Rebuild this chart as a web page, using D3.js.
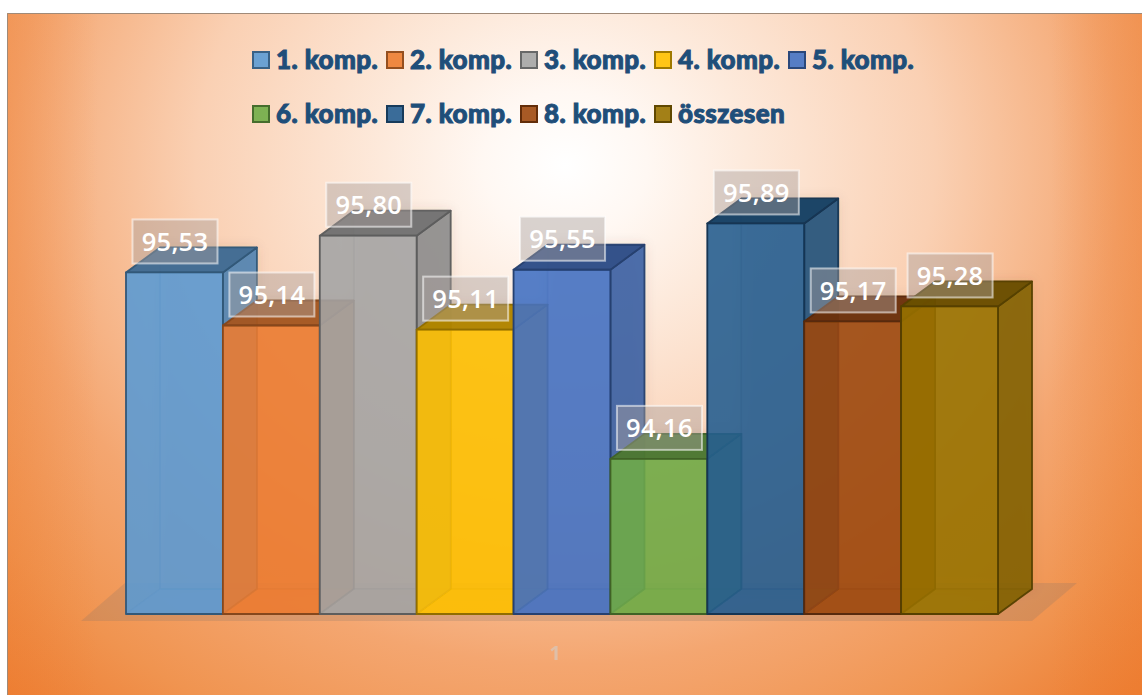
<!DOCTYPE html>
<html><head><meta charset="utf-8">
<script src="https://cdn.jsdelivr.net/npm/d3@7/dist/d3.min.js"></script>
<style>html,body{margin:0;padding:0;background:#fff}svg{display:block}</style>
</head><body><svg id="c" width="1142" height="695"></svg>
<script>
const categories = ["1"];
const seriesNames = ["1. komp.","2. komp.","3. komp.","4. komp.","5. komp.","6. komp.","7. komp.","8. komp.","összesen"];
const seriesValues = [95.53,95.14,95.80,95.11,95.55,94.16,95.89,95.17,95.28];
const palette = ["#5B9BD5","#ED7D31","#A5A5A5","#FFC000","#4472C4","#70AD47","#255E91","#9E480E","#997300"];
const valueLabels = ["95,53","95,14","95,80","95,11","95,55","94,16","95,89","95,17","95,28"];

const svg = d3.select("#c");
const W = 1142, H = 695, left = 7, top0 = 13;
const defs = svg.append("defs");
const rg = defs.append("radialGradient").attr("id","bg")
  .attr("gradientUnits","userSpaceOnUse")
  .attr("cx",0).attr("cy",0).attr("r",1)
  .attr("gradientTransform","translate(565,165) scale(820,735)");
[[0,"#ffffff"],[0.1,"#fff8f3"],[0.22,"#fdeadc"],[0.45,"#fad0b3"],[0.68,"#f4a670"],[0.85,"#f09450"],[1,"#ed7d31"]].forEach(([o,c])=>
  rg.append("stop").attr("offset",o).attr("stop-color",c));
const edge = defs.append("linearGradient").attr("id","edge").attr("gradientUnits","userSpaceOnUse")
  .attr("x1",left).attr("x2",W).attr("y1",0).attr("y2",0);
[[0,.32],[.08,0],[.92,0],[1,.38]].forEach(([o,a])=>
  edge.append("stop").attr("offset",o).attr("stop-color","#ed7d31").attr("stop-opacity",a));
defs.append("filter").attr("id","blur").attr("x","-20%").attr("y","-20%").attr("width","140%").attr("height","140%")
  .append("feGaussianBlur").attr("stdDeviation",6);
defs.append("filter").attr("id","soft").attr("x","-5%").attr("y","-5%").attr("width","110%").attr("height","110%")
  .append("feGaussianBlur").attr("stdDeviation",0.5);

svg.append("rect").attr("x",left).attr("y",top0).attr("width",W-left).attr("height",H-top0).attr("fill","url(#bg)");
svg.append("rect").attr("x",left).attr("y",top0).attr("width",W-left).attr("height",H-top0).attr("fill","url(#edge)");
svg.append("path").attr("d",`M${left+.5},${H}V${top0+.5}H${W}`).attr("fill","none").attr("stroke","#a08a78").attr("stroke-width",1);

const baseY = 614, dx = 34, dy = 25;
const x = d3.scaleBand().domain(seriesNames).range([126,998]).padding(0);
const y = d3.scaleLinear().domain([93.02,96]).range([baseY,208.5]);
const w = x.bandwidth();

// floor
const floorPts = [[x.range()[0]-45,baseY+7],[x.range()[0]-1,baseY-31],[x.range()[1]+79,baseY-31],[x.range()[1]+34,baseY+7]];
svg.append("path").attr("d",d3.line()(floorPts)+"Z").attr("fill","#8a7668").attr("fill-opacity",.24);

// soft shadow behind the columns
svg.append("g").attr("filter","url(#blur)").selectAll("path").data(seriesNames).join("path")
  .attr("d",(d,i)=>{const X=x(d),Y=y(seriesValues[i]);return d3.line()([[X+dx,Y-dy],[X+w+dx,Y-dy],[X+w+dx,baseY-dy],[X+dx,baseY-dy]])+"Z";})
  .attr("fill","#6b4a33").attr("fill-opacity",.14);

const plot = svg.append("g").attr("filter","url(#soft)");
const bars = plot.selectAll("g.bar").data(seriesNames).join("g").attr("class","bar");
const poly = p => d3.line()(p)+"Z";
function face(sel, pts, fillFn, op, strokeOp){
  sel.append("path").attr("d",d=>poly(pts(d,seriesValues[seriesNames.indexOf(d)])))
   .attr("fill",d=>fillFn(palette[seriesNames.indexOf(d)]))
   .attr("fill-opacity",op)
   .attr("stroke",d=>d3.color(palette[seriesNames.indexOf(d)]).darker(1.6))
   .attr("stroke-opacity",strokeOp).attr("stroke-width",1.8).attr("stroke-linejoin","round");
}
const same = c=>c, dark = k=>c=>d3.color(c).darker(k).formatHex();
// back, left, floor
face(bars,(d,v)=>[[x(d)+dx,y(v)-dy],[x(d)+w+dx,y(v)-dy],[x(d)+w+dx,baseY-dy],[x(d)+dx,baseY-dy]],same,.45,.14);
face(bars,(d,v)=>[[x(d),y(v)],[x(d)+dx,y(v)-dy],[x(d)+dx,baseY-dy],[x(d),baseY]],dark(.2),.45,.12);
face(bars,(d,v)=>[[x(d),baseY],[x(d)+w,baseY],[x(d)+w+dx,baseY-dy],[x(d)+dx,baseY-dy]],same,.5,.12);
// right, top, front
face(bars,(d,v)=>[[x(d)+w,y(v)],[x(d)+w+dx,y(v)-dy],[x(d)+w+dx,baseY-dy],[x(d)+w,baseY]],dark(.55),.8,.95);
face(bars,(d,v)=>[[x(d),y(v)],[x(d)+w,y(v)],[x(d)+w+dx,y(v)-dy],[x(d)+dx,y(v)-dy]],dark(1.05),.95,.95);
face(bars,(d,v)=>[[x(d),y(v)],[x(d)+w,y(v)],[x(d)+w,baseY],[x(d),baseY]],same,.8,1);

// data labels
const labels = svg.append("g").selectAll("g").data(seriesNames).join("g")
  .attr("transform",(d,i)=>`translate(${x(d)+49},${y(seriesValues[i])-31})`);
labels.append("rect").attr("x",-42.5).attr("y",-22).attr("width",85).attr("height",44)
  .attr("fill","#a8a09c").attr("fill-opacity",.44).attr("stroke","#ffffff").attr("stroke-opacity",.55).attr("stroke-width",2);
labels.append("text").text((d,i)=>valueLabels[i]).attr("text-anchor","middle").attr("dy","0.36em")
  .attr("font-family","Open Sans, sans-serif").attr("font-weight",600).attr("font-size",25.5).attr("letter-spacing",.3).attr("fill","#fff");

// category axis
const cat = d3.scaleBand().domain(categories).range([112,998]);
const axis = svg.append("g").attr("transform","translate(0,643)").call(d3.axisBottom(cat).tickSize(0));
axis.select(".domain").remove();
axis.selectAll("text").attr("font-family","Open Sans, sans-serif").attr("font-size",20).attr("font-weight",700).attr("fill","#d9c4b4").attr("fill-opacity",.8).attr("filter","url(#soft)");

// legend
const col = d3.scalePoint().domain(d3.range(5)).range([252,788]);
const row = d3.scalePoint().domain([0,1]).range([60,114]);
const leg = svg.append("g").selectAll("g").data(seriesNames).join("g")
  .attr("transform",(d,i)=>`translate(${col(i%5)},${row(i<5?0:1)})`);
leg.append("rect").attr("x",1).attr("y",-8).attr("width",16).attr("height",16)
  .attr("fill",(d,i)=>palette[i]).attr("fill-opacity",.9)
  .attr("stroke",(d,i)=>d3.color(palette[i]).darker(1.3)).attr("stroke-width",2);
leg.append("text").text(d=>d).attr("x",24).attr("dy","0.35em")
  .attr("font-family","Lato, sans-serif").attr("font-weight",900).attr("font-size",26).attr("letter-spacing",.4)
  .attr("fill","#1F4E79").attr("stroke","#1F4E79").attr("stroke-width",1);
</script></body></html>
